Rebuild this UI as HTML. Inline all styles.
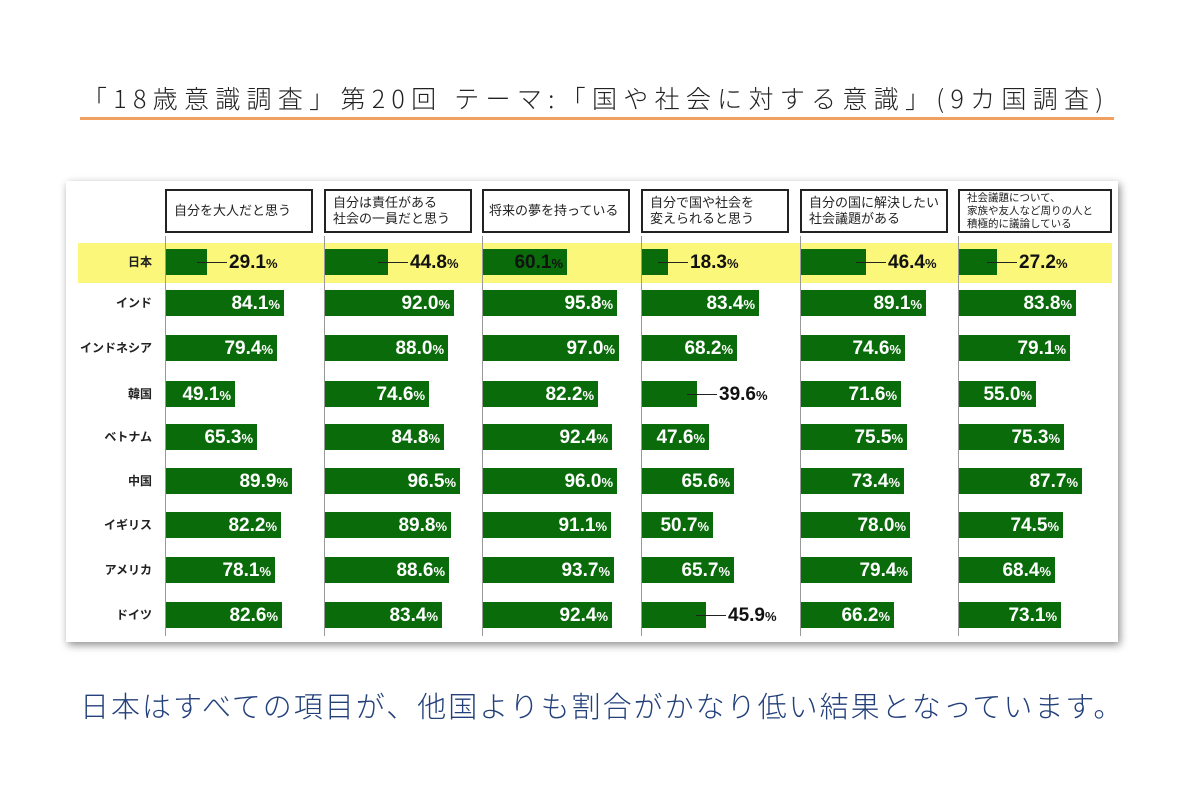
<!DOCTYPE html>
<html><head><meta charset="utf-8"><style>
body{margin:0;width:1200px;height:800px;background:#fff;position:relative;overflow:hidden;font-family:"Liberation Sans","Noto Sans CJK JP",sans-serif}
.title{position:absolute;left:82px;top:80px;font-size:25px;color:#222;letter-spacing:6.3px;font-family:"Noto Sans CJK JP",sans-serif;font-weight:300;white-space:nowrap}
.oline{position:absolute;left:80px;top:117px;width:1034px;height:3px;background:#f0a060}
.panel{position:absolute;left:66px;top:181px;width:1052px;height:461px;background:#fff;box-shadow:2px 3px 8px rgba(0,0,0,.45)}
.yb{position:absolute;left:78px;top:243px;width:1034px;height:40px;background:#fbf77a}
.ax{position:absolute;top:236px;width:1px;height:400px;background:#999}
.hd{position:absolute;top:189px;height:44px;width:148px;border:2px solid #222;box-sizing:border-box;font-size:13px;line-height:16px;display:flex;align-items:center;padding-left:7px;color:#222}
.hd.s{font-size:10.5px;line-height:13px}
.row{position:absolute;left:0;width:1200px;height:26px}
.rl{position:absolute;right:1048px;top:0;line-height:26px;font-size:12px;font-weight:bold;color:#222;white-space:nowrap}
.b{position:absolute;top:0;height:26px;background:#0a6b0a}
.b span{position:absolute;right:4px;top:0;line-height:27px;color:#fff;font-weight:bold;font-size:19px;white-space:nowrap}
.b span i{font-style:normal;font-size:13px}
.b.o span{right:auto;left:calc(100% + 22px);color:#111}
.b.o::after{content:"";position:absolute;right:-20px;top:13px;width:30px;height:1px;background:#222}
.b.k span{color:#111}
.foot{position:absolute;left:80px;top:684px;font-size:29px;color:#23407a;letter-spacing:2px;white-space:nowrap;font-family:"Noto Sans CJK JP",sans-serif;font-weight:300}
</style></head><body>
<div class="title">「18歳意識調査」第20回 テーマ:「国や社会に対する意識」(9カ国調査)</div>
<div class="oline"></div>
<div class="panel"></div>
<div class="yb"></div>
<div class="ax" style="left:165px"></div><div class="ax" style="left:324px"></div><div class="ax" style="left:482px"></div><div class="ax" style="left:641px"></div><div class="ax" style="left:800px"></div><div class="ax" style="left:958px"></div>
<div class="hd" style="left:165px">自分を大人だと思う</div>
<div class="hd" style="left:324px">自分は責任がある<br>社会の一員だと思う</div>
<div class="hd" style="left:482px;padding-left:5px">将来の夢を持っている</div>
<div class="hd" style="left:641px">自分で国や社会を<br>変えられると思う</div>
<div class="hd" style="left:800px">自分の国に解決したい<br>社会議題がある</div>
<div class="hd s" style="left:958px;width:154px">社会議題について、<br>家族や友人など周りの人と<br>積極的に議論している</div>

<div class="row" style="top:249px"><div class="rl">日本</div>
<div class="b o" style="left:166px;width:41px"><span>29.1<i>%</i></span></div>
<div class="b o" style="left:325px;width:63px"><span>44.8<i>%</i></span></div>
<div class="b k" style="left:483px;width:84px"><span>60.1<i>%</i></span></div>
<div class="b o" style="left:642px;width:26px"><span>18.3<i>%</i></span></div>
<div class="b o" style="left:801px;width:65px"><span>46.4<i>%</i></span></div>
<div class="b o" style="left:959px;width:38px"><span>27.2<i>%</i></span></div></div>

<div class="row" style="top:290px"><div class="rl">インド</div>
<div class="b" style="left:166px;width:118px"><span>84.1<i>%</i></span></div>
<div class="b" style="left:325px;width:129px"><span>92.0<i>%</i></span></div>
<div class="b" style="left:483px;width:134px"><span>95.8<i>%</i></span></div>
<div class="b" style="left:642px;width:117px"><span>83.4<i>%</i></span></div>
<div class="b" style="left:801px;width:125px"><span>89.1<i>%</i></span></div>
<div class="b" style="left:959px;width:117px"><span>83.8<i>%</i></span></div></div>

<div class="row" style="top:335px"><div class="rl">インドネシア</div>
<div class="b" style="left:166px;width:111px"><span>79.4<i>%</i></span></div>
<div class="b" style="left:325px;width:123px"><span>88.0<i>%</i></span></div>
<div class="b" style="left:483px;width:136px"><span>97.0<i>%</i></span></div>
<div class="b" style="left:642px;width:95px"><span>68.2<i>%</i></span></div>
<div class="b" style="left:801px;width:104px"><span>74.6<i>%</i></span></div>
<div class="b" style="left:959px;width:111px"><span>79.1<i>%</i></span></div></div>

<div class="row" style="top:381px"><div class="rl">韓国</div>
<div class="b" style="left:166px;width:69px"><span>49.1<i>%</i></span></div>
<div class="b" style="left:325px;width:104px"><span>74.6<i>%</i></span></div>
<div class="b" style="left:483px;width:115px"><span>82.2<i>%</i></span></div>
<div class="b o" style="left:642px;width:55px"><span>39.6<i>%</i></span></div>
<div class="b" style="left:801px;width:100px"><span>71.6<i>%</i></span></div>
<div class="b" style="left:959px;width:77px"><span>55.0<i>%</i></span></div></div>

<div class="row" style="top:424px"><div class="rl">ベトナム</div>
<div class="b" style="left:166px;width:91px"><span>65.3<i>%</i></span></div>
<div class="b" style="left:325px;width:119px"><span>84.8<i>%</i></span></div>
<div class="b" style="left:483px;width:129px"><span>92.4<i>%</i></span></div>
<div class="b" style="left:642px;width:67px"><span>47.6<i>%</i></span></div>
<div class="b" style="left:801px;width:106px"><span>75.5<i>%</i></span></div>
<div class="b" style="left:959px;width:105px"><span>75.3<i>%</i></span></div></div>

<div class="row" style="top:468px"><div class="rl">中国</div>
<div class="b" style="left:166px;width:126px"><span>89.9<i>%</i></span></div>
<div class="b" style="left:325px;width:135px"><span>96.5<i>%</i></span></div>
<div class="b" style="left:483px;width:134px"><span>96.0<i>%</i></span></div>
<div class="b" style="left:642px;width:92px"><span>65.6<i>%</i></span></div>
<div class="b" style="left:801px;width:103px"><span>73.4<i>%</i></span></div>
<div class="b" style="left:959px;width:123px"><span>87.7<i>%</i></span></div></div>

<div class="row" style="top:512px"><div class="rl">イギリス</div>
<div class="b" style="left:166px;width:115px"><span>82.2<i>%</i></span></div>
<div class="b" style="left:325px;width:126px"><span>89.8<i>%</i></span></div>
<div class="b" style="left:483px;width:128px"><span>91.1<i>%</i></span></div>
<div class="b" style="left:642px;width:71px"><span>50.7<i>%</i></span></div>
<div class="b" style="left:801px;width:109px"><span>78.0<i>%</i></span></div>
<div class="b" style="left:959px;width:104px"><span>74.5<i>%</i></span></div></div>

<div class="row" style="top:557px"><div class="rl">アメリカ</div>
<div class="b" style="left:166px;width:109px"><span>78.1<i>%</i></span></div>
<div class="b" style="left:325px;width:124px"><span>88.6<i>%</i></span></div>
<div class="b" style="left:483px;width:131px"><span>93.7<i>%</i></span></div>
<div class="b" style="left:642px;width:92px"><span>65.7<i>%</i></span></div>
<div class="b" style="left:801px;width:111px"><span>79.4<i>%</i></span></div>
<div class="b" style="left:959px;width:96px"><span>68.4<i>%</i></span></div></div>

<div class="row" style="top:602px"><div class="rl">ドイツ</div>
<div class="b" style="left:166px;width:116px"><span>82.6<i>%</i></span></div>
<div class="b" style="left:325px;width:117px"><span>83.4<i>%</i></span></div>
<div class="b" style="left:483px;width:129px"><span>92.4<i>%</i></span></div>
<div class="b o" style="left:642px;width:64px"><span>45.9<i>%</i></span></div>
<div class="b" style="left:801px;width:93px"><span>66.2<i>%</i></span></div>
<div class="b" style="left:959px;width:102px"><span>73.1<i>%</i></span></div></div>

<div class="foot">日本はすべての項目が、他国よりも割合がかなり低い結果となっています。</div>
</body></html>
